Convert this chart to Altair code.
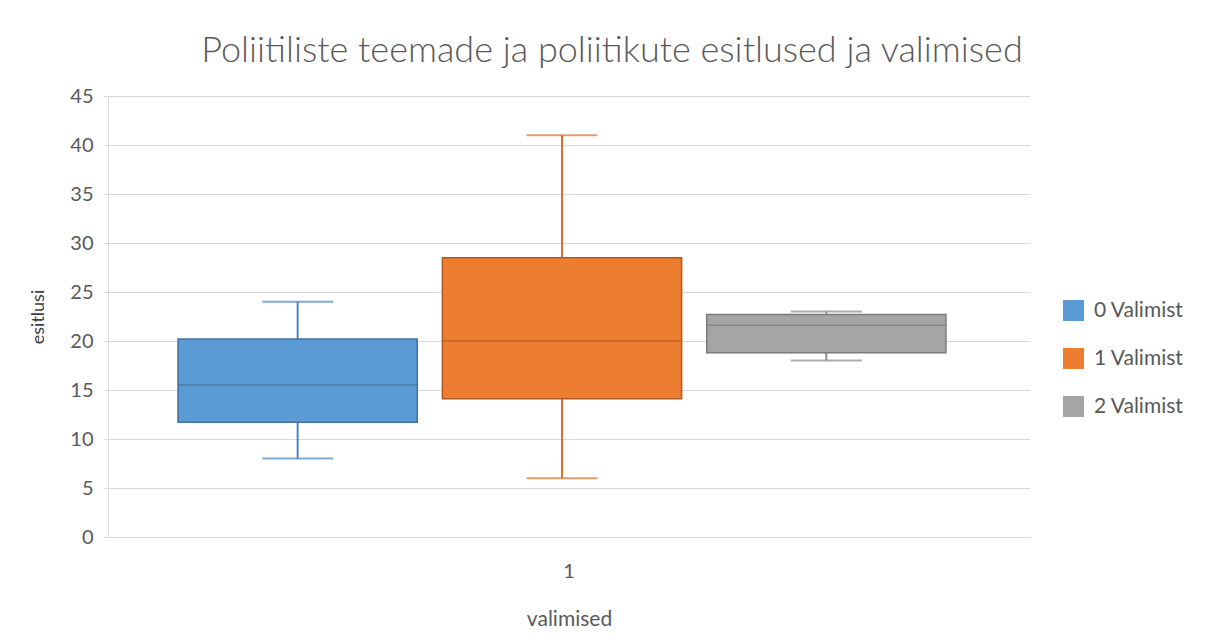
import altair as alt
import pandas as pd

series = ["0 Valimist", "1 Valimist", "2 Valimist"]
mins = [8, 6, 18]
q1s = [11.7, 14.1, 18.8]
meds = [15.5, 20.0, 21.6]
q3s = [20.2, 28.5, 22.7]
maxs = [24, 41, 23]
group = ["1", "1", "1"]

fills = ["#5B9BD5", "#ED7D31", "#A5A5A5"]
strokes = ["#41719C", "#AE5A21", "#7B7B7B"]
whisk = ["#4A86C2", "#D9702A", "#8C8C8C"]

df = pd.DataFrame({"grp": group, "series": series, "min": mins, "q1": q1s,
                   "med": meds, "q3": q3s, "max": maxs})

FONT = "Lato"

x = alt.X("grp:N", scale=alt.Scale(paddingInner=0, paddingOuter=0.1003, align=0.4545),
          axis=alt.Axis(title="valimised", labelAngle=0, ticks=False, domain=True,
                        domainColor="#D9D9D9", labelPadding=24, titlePadding=27,
                        labelOffset=7, labelFontSize=20, titleFontSize=21,
                        labelColor="#595959", titleColor="#595959",
                        titleFontWeight="normal"))
xo = alt.XOffset("series:N", scale=alt.Scale(paddingInner=0.095, paddingOuter=0))
yscale = alt.Scale(domain=[0, 45])
yaxis = alt.Axis(title="esitlusi", values=list(range(0, 46, 5)), tickCount=10,
                 gridColor="#D9D9D9", domainColor="#D9D9D9", tickColor="#D9D9D9",
                 tickSize=5, labelFontSize=20, labelColor="#595959", labelPadding=10,
                 titleFontSize=18, titleColor="#404040", titleFontWeight="normal",
                 titlePadding=22)

fill_scale = alt.Scale(domain=series, range=fills)
stroke_scale = alt.Scale(domain=series, range=strokes)
wh_scale = alt.Scale(domain=series, range=whisk)

base = alt.Chart(df)

whiskers = base.mark_rule(strokeWidth=2).encode(
    x=x, xOffset=xo,
    y=alt.Y("min:Q", scale=yscale, axis=yaxis), y2="max:Q",
    color=alt.Color("series:N", scale=wh_scale, legend=None))

boxes = base.mark_bar(strokeWidth=1.5).encode(
    x=x, xOffset=xo,
    y=alt.Y("q1:Q", scale=yscale), y2="q3:Q",
    fill=alt.Fill("series:N", scale=fill_scale,
                  legend=alt.Legend(title=None, orient="none", legendX=955, legendY=204,
                                    symbolType="square", symbolSize=441,
                                    symbolStrokeWidth=0, labelFontSize=21,
                                    labelColor="#595959", rowPadding=26,
                                    labelOffset=10, symbolOpacity=1)),
    stroke=alt.Stroke("series:N", scale=stroke_scale, legend=None))

medians = base.mark_tick(orient="horizontal", size=239, thickness=1.5).encode(
    x=x, xOffset=xo, y=alt.Y("med:Q", scale=yscale),
    color=alt.Color("series:N", scale=stroke_scale, legend=None))

caps_hi = base.mark_tick(orient="horizontal", size=71, thickness=2).encode(
    x=x, xOffset=xo, y=alt.Y("max:Q", scale=yscale),
    color=alt.Color("series:N", scale=wh_scale, legend=None))

caps_lo = base.mark_tick(orient="horizontal", size=71, thickness=2).encode(
    x=x, xOffset=xo, y=alt.Y("min:Q", scale=yscale),
    color=alt.Color("series:N", scale=wh_scale, legend=None))

chart = alt.layer(whiskers, boxes, medians, caps_hi, caps_lo).resolve_scale(
    color="independent"
).properties(
    width=922, height=441,
    autosize=alt.AutoSizeParams(type="none"),
    padding={"left": 100, "top": 88, "right": 169, "bottom": 100},
    title=alt.Title("Poliitiliste teemade ja poliitikute esitlused ja valimised",
                    fontSize=36, font=FONT, color="#595959", fontWeight=300,
                    anchor="middle", dx=43, offset=16),
).configure(font=FONT, background="white").configure_view(stroke=None)

chart.save("out.html", embed_options={"renderer": "svg", "actions": False})
